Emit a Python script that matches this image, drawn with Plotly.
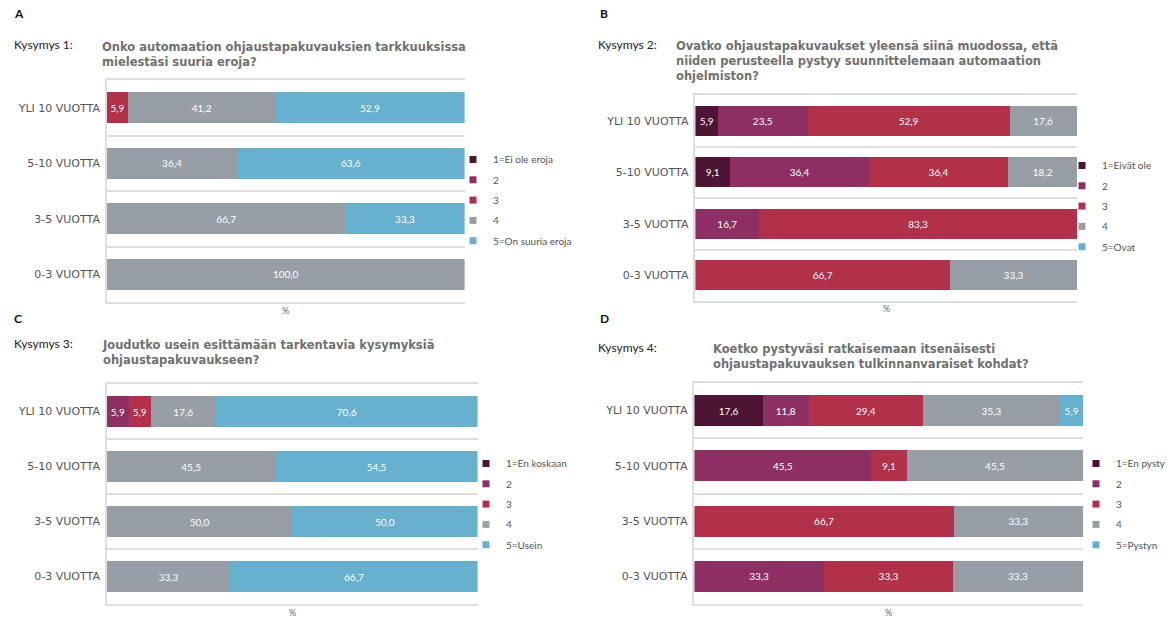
import plotly.graph_objects as go

W, H = 1171, 618

# ---------------- data ----------------
categories = ["YLI 10 VUOTTA", "5-10 VUOTTA", "3-5 VUOTTA", "0-3 VUOTTA"]
level_colors = ["#4d1433", "#8d2f62", "#b1314a", "#989ea6", "#67b0ce"]

# Panel A – Kysymys 1
a_labels = ["1=Ei ole eroja", "2", "3", "4", "5=On suuria eroja"]
a_v1 = [0, 0, 0, 0]
a_v2 = [0, 0, 0, 0]
a_v3 = [5.9, 0, 0, 0]
a_v4 = [41.2, 36.4, 66.7, 100.0]
a_v5 = [52.9, 63.6, 33.3, 0]

# Panel B – Kysymys 2
b_labels = ["1=Eivät ole", "2", "3", "4", "5=Ovat"]
b_v1 = [5.9, 9.1, 0, 0]
b_v2 = [23.5, 36.4, 16.7, 0]
b_v3 = [52.9, 36.4, 83.3, 66.7]
b_v4 = [17.6, 18.2, 0, 33.3]
b_v5 = [0, 0, 0, 0]

# Panel C – Kysymys 3
c_labels = ["1=En koskaan", "2", "3", "4", "5=Usein"]
c_v1 = [0, 0, 0, 0]
c_v2 = [5.9, 0, 0, 0]
c_v3 = [5.9, 0, 0, 0]
c_v4 = [17.6, 45.5, 50.0, 33.3]
c_v5 = [70.6, 54.5, 50.0, 66.7]

# Panel D – Kysymys 4
d_labels = ["1=En pysty", "2", "3", "4", "5=Pystyn"]
d_v1 = [17.6, 0, 0, 0]
d_v2 = [11.8, 45.5, 0, 33.3]
d_v3 = [29.4, 9.1, 66.7, 33.3]
d_v4 = [35.3, 45.5, 33.3, 33.3]
d_v5 = [5.9, 0, 0, 0]

letters = ["A", "B", "C", "D"]
questions = ["Kysymys 1:", "Kysymys 2:", "Kysymys 3:", "Kysymys 4:"]
titles = [
    "Onko automaation ohjaustapakuvauksien tarkkuuksissa<br>mielestäsi suuria eroja?",
    "Ovatko ohjaustapakuvaukset yleensä siinä muodossa, että<br>niiden perusteella pystyy suunnittelemaan automaation<br>ohjelmiston?",
    "Joudutko usein esittämään tarkentavia kysymyksiä<br>ohjaustapakuvaukseen?",
    "Koetko pystyväsi ratkaisemaan itsenäisesti<br>ohjaustapakuvauksen tulkinnanvaraiset kohdat?",
]

# ---------------- layout helpers ----------------
def fx(px):
    return px / W

def fy(py):
    return 1 - py / H

panels = [
    dict(series=[a_v1, a_v2, a_v3, a_v4, a_v5], labels=a_labels,
         box=(107, 465, 80, 302), width=0.56, leg=(453, 145),
         letter=(12, 14), q=(12, 45), title=(100, 38)),
    dict(series=[b_v1, b_v2, b_v3, b_v4, b_v5], labels=b_labels,
         box=(696, 1078, 95, 301), width=0.58, leg=(1062, 151),
         letter=(599, 14), q=(597, 44), title=(675, 37)),
    dict(series=[c_v1, c_v2, c_v3, c_v4, c_v5], labels=c_labels,
         box=(107, 478, 384, 604), width=0.56, leg=(466, 449),
         letter=(12, 318), q=(12, 343), title=(100, 336)),
    dict(series=[d_v1, d_v2, d_v3, d_v4, d_v5], labels=d_labels,
         box=(695, 1084, 383, 604), width=0.56, leg=(1077, 449),
         letter=(599, 318), q=(597, 347), title=(712, 340)),
]

GRID = "#dedede"
TICK_FONT = dict(family="DejaVu Sans", size=11, color="#555555")

fig = go.Figure()
annotations = []
layout = dict(
    width=W, height=H, autosize=False,
    margin=dict(l=0, r=0, t=0, b=0),
    paper_bgcolor="white", plot_bgcolor="white",
    barmode="stack", showlegend=True,
    font=dict(family="Lato", color="#444444"),
    uniformtext=dict(minsize=10, mode="show"),
)

def fmt(v):
    return "" if v == 0 else f"{v:.1f}".replace(".", ",")

for i, p in enumerate(panels):
    n = i + 1
    xa = "x" if n == 1 else f"x{n}"
    ya = "y" if n == 1 else f"y{n}"
    lg = "legend" if n == 1 else f"legend{n}"
    l, r, t, b = p["box"]

    for k, vals in enumerate(p["series"]):
        fig.add_trace(go.Bar(
            y=categories, x=vals, orientation="h",
            marker=dict(color=level_colors[k], line=dict(width=0)),
            text=[fmt(v) for v in vals], textposition="inside",
            insidetextanchor="middle",
            textfont=dict(family="Lato", size=10, color="white"),
            width=p["width"], xaxis=xa, yaxis=ya,
            name=p["labels"][k], legendgroup=f"p{n}_{k}",
            showlegend=False, hoverinfo="x+y+name",
        ))
    for k in range(5):
        fig.add_trace(go.Scatter(
            x=[None], y=[None], mode="markers",
            marker=dict(symbol="square", size=7, color=level_colors[k]),
            name=p["labels"][k], legendgroup=f"p{n}_{k}", legend=lg,
            xaxis=xa, yaxis=ya, showlegend=True,
        ))

    layout["xaxis" if n == 1 else f"xaxis{n}"] = dict(
        domain=[fx(l), fx(r)], range=[0, 100], anchor=ya,
        showticklabels=False, showgrid=False, zeroline=False,
        showline=True, mirror=True, linecolor=GRID, linewidth=1.5,
        fixedrange=True,
    )
    layout["yaxis" if n == 1 else f"yaxis{n}"] = dict(
        domain=[fy(b), fy(t)], anchor=xa, type="category",
        categoryorder="array", categoryarray=categories[::-1],
        tickson="boundaries", ticks="", showgrid=True,
        gridcolor=GRID, gridwidth=1.5, showline=True,
        linecolor=GRID, linewidth=1.5, tickfont=TICK_FONT,
        ticklabelstandoff=3, fixedrange=True,
    )
    lx, ly = p["leg"]
    layout[lg] = dict(
        x=fx(lx), y=fy(ly), xanchor="left", yanchor="top",
        xref="paper", yref="paper",
        font=dict(family="Lato", size=10, color="#555555"),
        bgcolor="rgba(0,0,0,0)", tracegroupgap=1.3, itemwidth=30,
        traceorder="grouped",
    )

    # "%" axis caption
    annotations.append(dict(
        text="%", xref=f"{xa} domain", yref=f"{ya} domain", x=0.5, y=0,
        yshift=-8, xanchor="center", yanchor="middle", showarrow=False,
        font=dict(family="Lato", size=9, color="#666666"),
    ))
    # panel letter
    annotations.append(dict(
        text=f"<b>{letters[i]}</b>", xref="paper", yref="paper",
        x=fx(p["letter"][0]), y=fy(p["letter"][1]), xanchor="left",
        yanchor="middle", showarrow=False,
        font=dict(family="Lato", size=12, color="#111111"),
    ))
    # "Kysymys n:"
    annotations.append(dict(
        text=questions[i], xref="paper", yref="paper",
        x=fx(p["q"][0]), y=fy(p["q"][1]), xanchor="left",
        yanchor="middle", showarrow=False,
        font=dict(family="Lato", size=12, color="#222222"),
    ))
    # question text
    annotations.append(dict(
        text=f"<b>{titles[i]}</b>", xref="paper", yref="paper",
        x=fx(p["title"][0]), y=fy(p["title"][1]), xanchor="left",
        yanchor="top", align="left", showarrow=False,
        font=dict(family="DejaVu Sans", size=11.5, color="#707070"),
    ))

layout["annotations"] = annotations
fig.update_layout(**layout)
fig.write_html("out.html")
